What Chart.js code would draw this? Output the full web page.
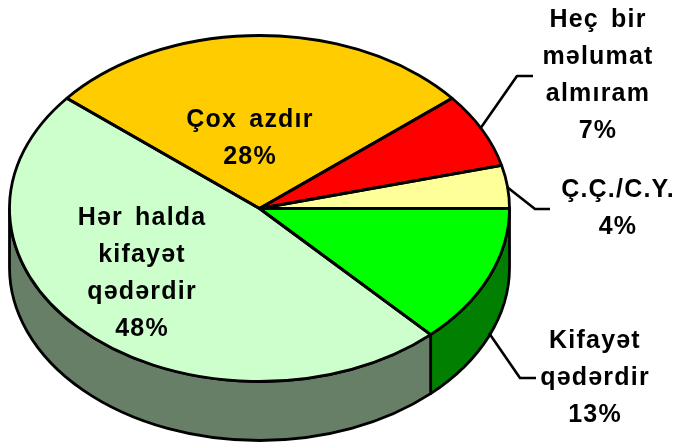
<!DOCTYPE html>
<html>
<head>
<meta charset="utf-8">
<style>
  html, body { margin: 0; padding: 0; background: #fff; }
  canvas { display: block; }
</style>
<script src="https://cdn.jsdelivr.net/npm/chart.js@4/dist/chart.umd.min.js"></script>
</head>
<body>
<canvas id="chartPie" width="685" height="446"></canvas>
<script>
  // Dados lidos da figura, no sentido horario a partir do leste
  const categories = [
    ["Kifayət", "qədərdir"],
    ["Hər halda", "kifayət", "qədərdir"],
    ["Çox azdır"],
    ["Heç bir", "məlumat", "almıram"],
    ["Ç.Ç./C.Y."]
  ];
  const values = [13, 48, 28, 7, 4];
  const topColors = ["#00ff00", "#ccffcc", "#ffcc00", "#ff0000", "#ffff99"];
  const sideColors = ["#007f00", "#667f66", "#7f6600", "#7f0000", "#7f7f4c"];

  // Posicao dos rotulos: centro x e primeira linha de base
  const labelX = [595, 142, 250, 598, 618];
  const labelY = [348, 225, 127, 27, 197];
  // Linhas de chamada (null = rotulo dentro da fatia)
  const leaders = [
    [[489, 333], [520, 378], [536, 378]],
    null,
    null,
    [[480, 129], [517, 76], [533, 76]],
    [[507, 187], [535, 209], [550, 209]]
  ];

  // Elipse da pizza 3D
  const CX = 259.5, CY = 208.5, RX = 250, RY = 173, DEPTH = 59;
  const LINE = 2.8, PITCH = 37;

  function drawWalls(ctx, arcs) {
    arcs.forEach((arc, i) => {
      const a0 = Math.max(arc.startAngle, 0);
      const a1 = Math.min(arc.endAngle, Math.PI);
      if (a1 <= a0) return;
      ctx.beginPath();
      ctx.ellipse(CX, CY, RX, RY, 0, a0, a1);
      ctx.ellipse(CX, CY + DEPTH, RX, RY, 0, a1, a0, true);
      ctx.closePath();
      ctx.fillStyle = sideColors[i];
      ctx.fill();
      ctx.lineWidth = LINE;
      ctx.strokeStyle = "#000";
      ctx.lineJoin = "round";
      ctx.stroke();
    });
  }

  function drawOutlines(ctx, arcs) {
    arcs.forEach((arc) => {
      ctx.beginPath();
      ctx.moveTo(CX, CY);
      ctx.ellipse(CX, CY, RX, RY, 0, arc.startAngle, arc.endAngle);
      ctx.closePath();
      ctx.lineWidth = LINE;
      ctx.strokeStyle = "#000";
      ctx.lineJoin = "round";
      ctx.stroke();
    });
  }

  function drawLabels(ctx) {
    ctx.fillStyle = "#000";
    ctx.font = "bold 25px 'Liberation Sans', Arial, sans-serif";
    ctx.letterSpacing = "1.2px";
    ctx.wordSpacing = "4px";
    ctx.textAlign = "center";
    ctx.textBaseline = "alphabetic";
    categories.forEach((lines, i) => {
      [...lines, values[i] + "%"].forEach((t, n) => {
        ctx.fillText(t, labelX[i], labelY[i] + n * PITCH);
      });
    });
    ctx.letterSpacing = "0px";
    ctx.wordSpacing = "0px";
    leaders.forEach((pts) => {
      if (!pts) return;
      ctx.beginPath();
      pts.forEach(([x, y], n) => (n ? ctx.lineTo(x, y) : ctx.moveTo(x, y)));
      ctx.lineWidth = 2.6;
      ctx.strokeStyle = "#000";
      ctx.stroke();
    });
  }

  // Achata a pizza do Chart.js em elipse e desenha a parede lateral
  const pie3d = {
    id: "pie3d",
    beforeDatasetsDraw(chart) {
      const ctx = chart.ctx;
      const arcs = chart.getDatasetMeta(0).data;
      drawWalls(ctx, arcs);
      const a = arcs[0];
      ctx.save();
      ctx.translate(CX, CY);
      ctx.scale(RX / a.outerRadius, RY / a.outerRadius);
      ctx.translate(-a.x, -a.y);
    },
    afterDatasetsDraw(chart) {
      const ctx = chart.ctx;
      ctx.restore();
      drawOutlines(ctx, chart.getDatasetMeta(0).data);
      drawLabels(ctx);
    }
  };

  new Chart(document.getElementById("chartPie"), {
    type: "pie",
    data: {
      labels: categories.map((c) => c.join(" ")),
      datasets: [{
        data: values,
        backgroundColor: topColors,
        borderWidth: 0,
        clip: false
      }]
    },
    options: {
      responsive: false,
      animation: false,
      rotation: 90,
      layout: { padding: 0 },
      plugins: { legend: { display: false }, tooltip: { enabled: false } }
    },
    plugins: [pie3d]
  });
</script>
</body>
</html>
